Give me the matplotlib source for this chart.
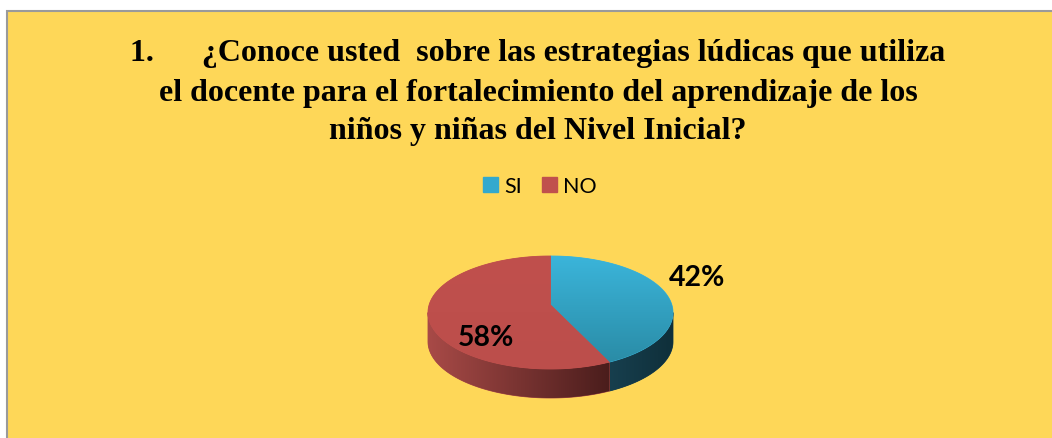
import numpy as np
import matplotlib
matplotlib.use("Agg")
import matplotlib.pyplot as plt
from matplotlib.patches import Polygon, Rectangle, Patch
from matplotlib.colors import LinearSegmentedColormap

# datos del grafico
categories = ["SI", "NO"]
values = [42, 58]
title_lines = [
    "1.      ¿Conoce usted  sobre las estrategias lúdicas que utiliza",
    "el docente para el fortalecimiento del aprendizaje de los",
    "niños y niñas del Nivel Inicial?",
]

# colores (cara superior arriba/abajo, lateral izq/der)
top_colors = [("#3BB5DB", "#2A8CA6"), ("#C0504D", "#BC4E4B")]
side_colors = [("#173F4E", "#0F2F3A"), ("#A84A47", "#4A1D1C")]
legend_colors = ["#33A9CE", "#C0504D"]

W, H = 1052, 439
fig = plt.figure(figsize=(W / 100, H / 100), dpi=100)
fig.patch.set_facecolor("white")
ax = fig.add_axes([0, 0, 1, 1])
ax.set_xlim(0, W)
ax.set_ylim(H, 0)
ax.axis("off")

# fondo amarillo del area del grafico
ax.add_patch(Rectangle((7, 12), W + 10, H, facecolor="#FED758",
                       edgecolor="#9A9A9A", linewidth=1.5, zorder=0))

# titulo
for i, line in enumerate(title_lines):
    ax.text(538, 54 + i * 39, line, ha="center", va="center",
            fontsize=23, fontweight="bold", family="Liberation Serif",
            color="black", zorder=5)

# pastel 3D hecho a mano
cx, cy = 550.5, 313.5
rx, ry = 122.5, 56.5
apex_dy = -8
depth = 29


def rim(theta):
    return cx + rx * np.cos(theta), cy - ry * np.sin(theta)


def grad_fill(poly, c1, c2, horizontal, z):
    xs, ys = poly[:, 0], poly[:, 1]
    x0, x1, y0, y1 = xs.min(), xs.max(), ys.min(), ys.max()
    # relleno solido debajo para tapar la costura del recorte
    ax.add_patch(Polygon(poly, closed=True, facecolor=c1, edgecolor=c1,
                         linewidth=0.6, zorder=z - 0.5))
    cmap = LinearSegmentedColormap.from_list("g", [c1, c2])
    g = np.linspace(0, 1, 256)
    img = g[None, :] if horizontal else g[:, None]
    im = ax.imshow(img, cmap=cmap, extent=(x0, x1, y1, y0), aspect="auto",
                   interpolation="bilinear", zorder=z)
    p = Polygon(poly, closed=True, facecolor="none", edgecolor="none", zorder=z)
    ax.add_patch(p)
    im.set_clip_path(p)


total = float(sum(values))
start = np.pi / 2
angles = []
for v in values:
    end = start - 2 * np.pi * v / total
    angles.append((start, end))
    start = end

# paredes laterales (solo la mitad frontal)
for (a0, a1), (c1, c2) in zip(angles, side_colors):
    lo, hi = min(a0, a1), max(a0, a1)
    for shift in (0, -2 * np.pi, 2 * np.pi):
        s0, s1 = max(lo + shift, np.pi), min(hi + shift, 2 * np.pi)
        if s1 > s0:
            t = np.linspace(s0, s1, 120)
            x, y = rim(t)
            poly = np.column_stack([np.r_[x, x[::-1]], np.r_[y, y[::-1] + depth]])
            grad_fill(poly, c1, c2, True, 2)

# caras superiores
for (a0, a1), (c1, c2) in zip(angles, top_colors):
    t = np.linspace(a0, a1, 200)
    x, y = rim(t)
    poly = np.column_stack([np.r_[cx, x], np.r_[cy + apex_dy, y]])
    grad_fill(poly, c1, c2, False, 4)

# etiquetas de porcentaje
label_r = [1.2, 0.55]
label_off = [(4, -19), (1, 17)]
for (a0, a1), v, r, (dx, dy) in zip(angles, values, label_r, label_off):
    m = (a0 + a1) / 2
    x = cx + r * rx * np.cos(m) + dx
    y = cy - r * ry * np.sin(m) + dy
    ax.text(x, y, f"{v}%", ha="center", va="center", fontsize=20.5,
            fontweight="bold", family="Lato", color="black", zorder=6)

# leyenda
handles = [Patch(facecolor=c, edgecolor=c) for c in legend_colors]
fig.legend(handles, categories, loc="center", ncol=2,
           bbox_to_anchor=(540 / W, 1 - 187 / H), frameon=False,
           prop={"family": "Lato", "size": 15.5}, handlelength=0.7,
           handleheight=0.7, handletextpad=0.3, columnspacing=0.9)

fig.savefig("out.png", dpi=100, facecolor=fig.get_facecolor())
